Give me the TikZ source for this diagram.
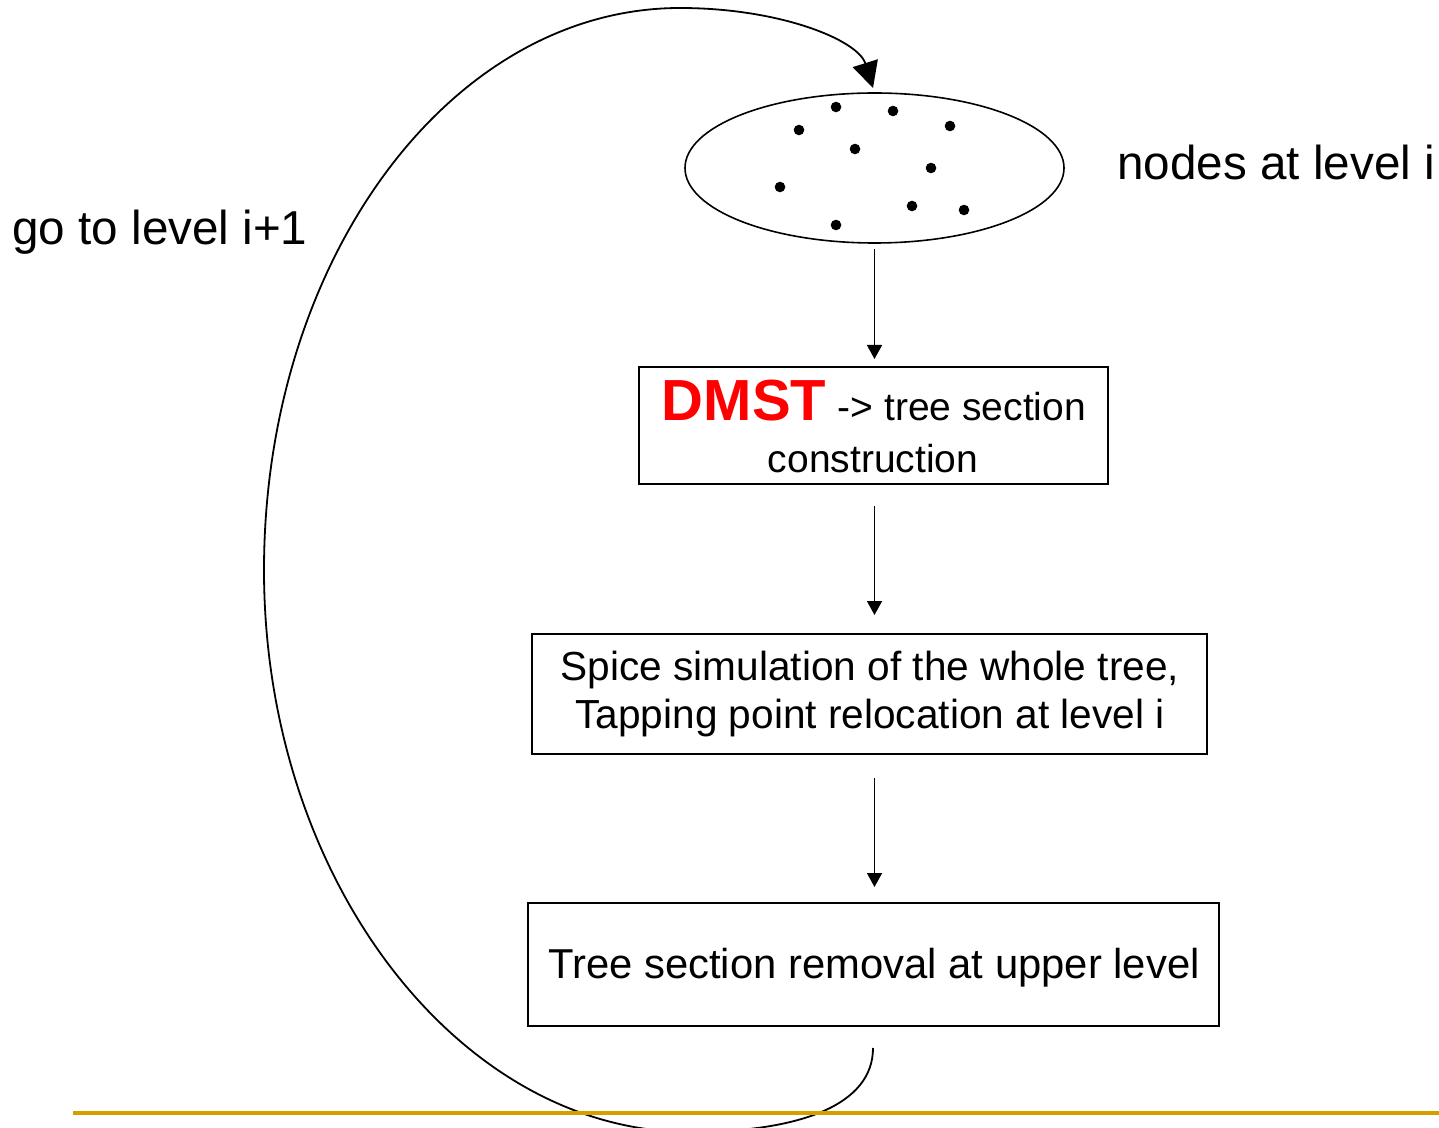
\documentclass[tikz,border=0pt]{standalone}
\usepackage{fontspec}
\setmainfont{Liberation Sans}
\usetikzlibrary{shapes.geometric,arrows.meta}
\definecolor{rulegold}{RGB}{212,160,0}
\begin{document}
\begin{tikzpicture}[x=0.5pt,y=-0.5pt,
  box/.style={draw,line width=1pt,rectangle,inner sep=0pt},
  flow/.style={draw,line width=0.75pt,-{Triangle[length=7pt,width=7.5pt]}},
  loopline/.style={draw,line width=0.9pt,-{Triangle[length=13pt,width=13pt]}},
  lbl/.style={anchor=base west,inner sep=0pt,font=\fontsize{23.8}{28}\selectfont},
  txt/.style={anchor=base,inner sep=0pt},
  dot/.style={circle,fill,inner sep=0pt,minimum size=5.3pt}]
\useasboundingbox (0,0) rectangle (1439,1128);

% set of nodes at the current level
\node[ellipse,draw,line width=0.8pt,inner sep=0pt,minimum width=189.5pt,minimum height=75pt] (ell) at (874.5,168) {};
\foreach \p [count=\k] in {(836,107),(893,111),(799,130),(950,126),(855,149),(931,168),(780,187),(912,206),(964,210),(836,225)}
  \node[dot] (d\k) at \p {};

% labels
\node[lbl] (lvl) at (1117,180) {nodes at level i};
\node[lbl] (goto) at (12,245) {go to level i+1};

% process boxes
\node[box,minimum width=234.5pt,minimum height=58.5pt] (b1) at (873.5,425.5) {};
\node[txt] (b1a) at (874,420) {{\fontsize{29}{34}\selectfont\bfseries\color{red}DMST}\hspace{3pt} {\fontsize{19.5}{23}\selectfont -> tree section}};
\node[txt,font=\fontsize{19.5}{23}\selectfont] (b1b) at (873,472) {construction};

\node[box,minimum width=337.5pt,minimum height=60pt] (b2) at (869.5,694) {};
\node[txt,font=\fontsize{20.3}{24}\selectfont] (b2a) at (870,680) {Spice simulation of the whole tree,};
\node[txt,font=\fontsize{20.3}{24}\selectfont] (b2b) at (870,728) {Tapping point relocation at level i};

\node[box,minimum width=345.5pt,minimum height=61.5pt] (b3) at (873.5,964.5) {};
\node[txt,font=\fontsize{20.9}{25}\selectfont] (b3a) at (874,978) {Tree section removal at upper level};

% downward flow
\draw[flow,shorten <=2.5pt,shorten >=3.5pt] (ell.south) -- (ell.south |- b1.north);
\draw[flow,shorten <=10.5pt,shorten >=9pt] (ell.south |- b1.south) -- (ell.south |- b2.north);
\draw[flow,shorten <=11.5pt,shorten >=7.5pt] (ell.south |- b2.south) -- (ell.south |- b3.north);

% feedback loop back to the top
\coordinate (loopstart) at (873,1048);
\coordinate (looptip) at (873,88);
\draw[loopline] (loopstart) .. controls (873,1105) and (800,1132) .. (690,1132)
  .. controls (460,1132) and (264,880) .. (264,570)
  .. controls (264,260) and (450,8) .. (680,8)
  .. controls (780,8) and (858,40) .. (looptip);

% footer rule
\draw[rulegold,line width=2pt] (73,1113) -- (1439,1113);
\end{tikzpicture}
\end{document}
